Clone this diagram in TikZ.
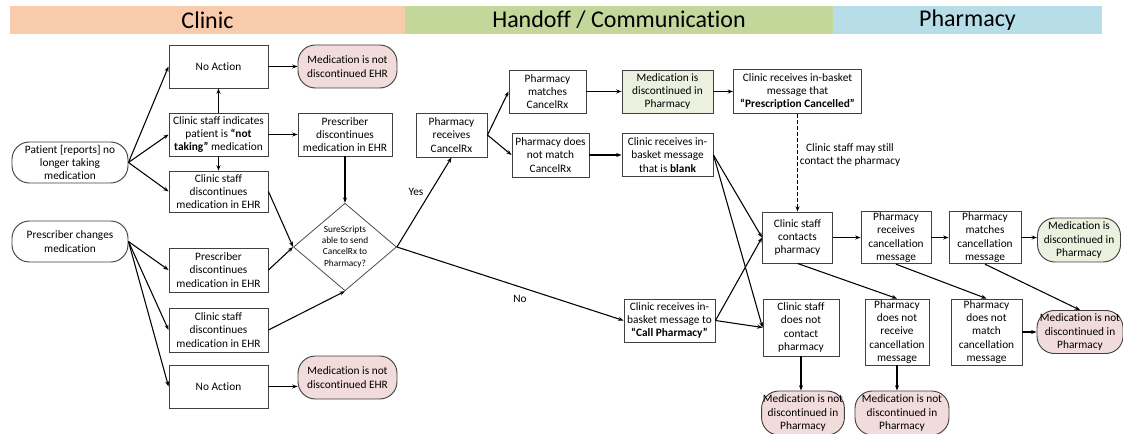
\documentclass[tikz,border=0pt]{standalone}
\usepackage{fontspec}
\setmainfont{Carlito}[Ligatures={TeX,NoCommon}]
\usetikzlibrary{shapes.geometric,arrows.meta}
\definecolor{clinicband}{RGB}{248,203,173}
\definecolor{handband}{RGB}{196,215,155}
\definecolor{pharmband}{RGB}{183,222,232}
\definecolor{notdone}{RGB}{242,220,219}
\definecolor{done}{RGB}{235,241,222}
\begin{document}
\begin{tikzpicture}[x=0.75pt,y=-0.75pt,
  every node/.style={font=\fontsize{8.5}{10}\selectfont,align=center,inner sep=1pt},
  box/.style={draw=black!75,fill=white,line width=0.7pt},
  pill/.style={box,rounded corners=13pt},
  wh/.style 2 args={minimum width=0.75pt*#1,minimum height=0.75pt*#2},
  band/.style={inner sep=0pt,font=\fontsize{18}{20}\selectfont},
  arr/.style={-{Stealth[length=4pt,width=3pt]},line width=0.8pt}]
\useasboundingbox (0,0) rectangle (1123,434);
% header bands
\node[band,fill=clinicband,wh={395}{28}] (hc) at (207.5,20) {Clinic};
\node[band,fill=handband,wh={428}{28}] (hh) at (619,20) {Handoff / Communication};
\node[band,fill=pharmband,wh={269}{28}] (hp) at (967.5,20) {Pharmacy};
% clinic
\node[box,wh={99}{43}] (nob) at (218.5,66.5) {No Action};
\node[pill,fill=notdone,wh={99}{43}] (mnt) at (347.5,66.5) {Medication is not\\discontinued EHR};
\node[box,wh={99}{43}] (csi) at (218.5,134.5) {Clinic staff indicates\\patient is \textbf{``not}\\\textbf{taking''} medication};
\node[box,wh={94}{43}] (pdt) at (345,134.5) {Prescriber\\discontinues\\medication in EHR};
\node[pill,wh={116}{41}] (pat) at (70,162.5) {Patient [reports] no\\longer taking\\medication};
\node[box,wh={99}{41}] (csd) at (218.5,191.5) {Clinic staff\\discontinues\\medication in EHR};
\node[pill,wh={116}{41}] (pch) at (70,241.5) {Prescriber changes\\medication};
\node[box,wh={99}{44}] (pdb) at (218.5,270) {Prescriber\\discontinues\\medication in EHR};
\node[box,wh={99}{44}] (csb) at (218.5,330) {Clinic staff\\discontinues\\medication in EHR};
\node[box,wh={99}{43}] (noa) at (218.5,386.5) {No Action};
\node[pill,fill=notdone,wh={99}{43}] (mnb) at (347.5,377.5) {Medication is not\\discontinued EHR};
\node[diamond,draw=black!70,line width=0.6pt,inner sep=0pt,wh={103}{82},font=\fontsize{7}{8.3}\selectfont] (ss) at (345,247) {SureScripts\\able to send\\CancelRx to\\Pharmacy?};
% handoff
\node[box,wh={71}{44}] (prx) at (451.5,135) {Pharmacy\\receives\\CancelRx};
\node[box,wh={77}{43}] (pmc) at (547.5,91.5) {Pharmacy\\matches\\CancelRx};
\node[box,fill=done,wh={91}{43}] (mdp) at (667.5,91.5) {Medication is\\discontinued in\\Pharmacy};
\node[box,wh={128}{44}] (cpc) at (797.5,91.5) {Clinic receives in-basket\\message that\\\textbf{``Prescription Cancelled''}};
\node[box,wh={77}{44}] (pnm) at (550.5,155) {Pharmacy does\\not match\\CancelRx};
\node[box,wh={91}{43}] (cbl) at (667.5,155) {Clinic receives in-\\basket message\\that is \textbf{blank}};
\node[box,wh={91}{43}] (ccp) at (669.5,320.5) {Clinic receives in-\\basket message to\\\textbf{``Call Pharmacy''}};
\node (yes) at (416,192) {Yes};
\node (no) at (520,299) {No};
\node (may) at (850,155) {Clinic staff may still\\contact the pharmacy};
% pharmacy
\node[box,wh={70}{51}] (csc) at (797.5,237.5) {Clinic staff\\contacts\\pharmacy};
\node[box,wh={70}{51}] (prc) at (896,237.5) {Pharmacy\\receives\\cancellation\\message};
\node[box,wh={72}{51}] (pma) at (985,237.5) {Pharmacy\\matches\\cancellation\\message};
\node[pill,fill=done,wh={83}{44}] (mdg) at (1079,240) {Medication is\\discontinued in\\Pharmacy};
\node[box,wh={76}{57}] (csn) at (801,327.5) {Clinic staff\\does not\\contact\\pharmacy};
\node[box,wh={64}{66}] (pnr) at (897,332) {Pharmacy\\does not\\receive\\cancellation\\message};
\node[box,wh={71}{66}] (pna) at (986.5,332) {Pharmacy\\does not\\match\\cancellation\\message};
\node[pill,fill=notdone,wh={86}{43}] (mnr) at (1080,332) {Medication is not\\discontinued in\\Pharmacy};
\node[pill,fill=notdone,wh={82}{44}] (mn1) at (803,413) {Medication is not\\discontinued in\\Pharmacy};
\node[pill,fill=notdone,wh={94}{44}] (mn2) at (902,413) {Medication is not\\discontinued in\\Pharmacy};
% connectors
\draw[arr] (pat.east) -- (nob.west);
\draw[arr] (pat.east) -- (csi.west);
\draw[arr] (pat.east) -- (csd.west);
\draw[arr] (csi) -- (nob);
\draw[arr] (csi) -- (csd);
\draw[arr] (csi) -- (pdt);
\draw[arr] (nob) -- (mnt);
\draw[arr] (pdt) -- (ss);
\draw[arr] (csd.east) -- (ss.west);
\draw[arr] (pch.east) -- (pdb.west);
\draw[arr] (pch.east) -- (csb.west);
\draw[arr] (pch.east) -- (noa.west);
\draw[arr] (pdb.east) -- (ss.west);
\draw[arr] (csb.east) -- (ss.south);
\draw[arr] (noa.east) -- (noa.east -| mnb.west);
\draw[arr] (ss.east) -- (prx.south);
\draw[arr] (ss.east) -- (ccp.west);
\draw[arr] (prx.east) -- (pmc.west);
\draw[arr] (prx.east) -- (pnm.west);
\draw[arr] (pmc) -- (mdp);
\draw[arr] (mdp) -- (cpc);
\draw[arr] (pnm) -- (cbl);
\draw[arr,dash pattern=on 3pt off 1.5pt] (cpc) -- (csc);
\draw[arr] (cbl.east) -- (csc.west);
\draw[arr] (cbl.east) -- (csn.west);
\draw[arr] (ccp.east) -- (csc.west);
\draw[arr] (ccp.east) -- (csn.west);
\draw[arr] (csc) -- (prc);
\draw[arr] (prc) -- (pma);
\draw[arr] (pma.east) -- (pma.east -| mdg.west);
\draw[arr] (csc.south) -- (pnr.north);
\draw[arr] (prc.south) -- (pna.north);
\draw[arr] (pma.south) -- (mnr.north);
\draw[arr] (pna) -- (mnr);
\draw[arr] (csn.south) -- (csn.south |- mn1.north);
\draw[arr] (pnr.south) -- (pnr.south |- mn2.north);
\end{tikzpicture}
\end{document}
